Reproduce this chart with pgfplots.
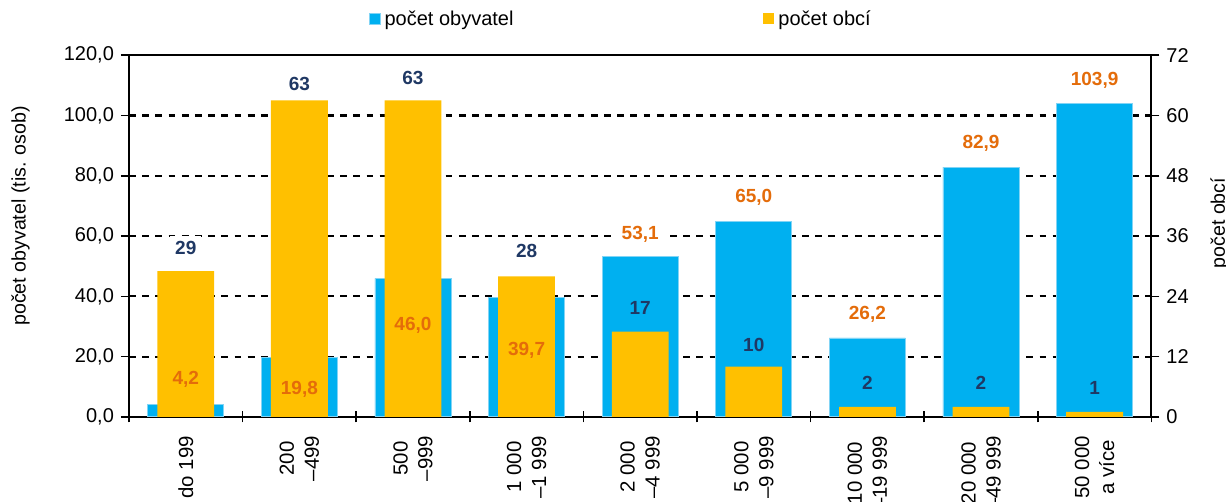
\documentclass[border=0pt]{standalone}
\usepackage{pgfplots}
\pgfplotsset{compat=1.18}
\usepackage{fontspec}
\setmainfont{Liberation Sans}
\definecolor{cblue}{RGB}{0,176,240}
\definecolor{cblueedge}{RGB}{130,212,245}
\definecolor{cyellow}{RGB}{255,192,0}
\definecolor{corange}{RGB}{228,108,10}
\definecolor{cnavy}{RGB}{31,56,100}
\begin{document}
\begin{tikzpicture}
\useasboundingbox (-64.5pt,-42.5pt) rectangle (548.65pt,208.5pt);
\pgfplotsset{
  common/.style={
    at={(0pt,0pt)}, anchor=south west,
    scale only axis, width=511.35pt, height=180.85pt,
    xmin=-0.5, xmax=8.5,
    ymin=0,
    major tick length=4pt,
    tick style={black, line width=0.8pt},
    tick label style={font=\fontsize{10}{12}\selectfont},
    /pgf/number format/assume math mode=true,
  }
}
% left axis: population
\begin{axis}[common,
  ymax=120, ytick={0,20,...,120},
  ytick pos=left, tick align=outside,
  axis line style={black, line width=1pt},
  yticklabel style={/pgf/number format/.cd, use comma, fixed, fixed zerofill, precision=1},
  ymajorgrids, grid style={black, line width=1.1pt, dash pattern=on 3.4pt off 3.2pt},
  xtick={0,...,8}, xtick pos=bottom,
  x tick style={draw=none},
  xticklabels={do 199, 200\\–499, 500\\–999, 1~000\\–1~999, 2~000\\–4~999, 5~000\\–9~999, 10~000\\–19~999, 20~000\\–49~999, 50~000\\a více},
  xticklabel style={rotate=90, anchor=east, align=center, font=\fontsize{10.2}{12.5}\selectfont, xshift=-2pt},
  extra x ticks={-0.5,0.5,...,8.5}, extra x tick labels={},
  extra x tick style={tick align=center, major tick length=5.5pt, x tick style={draw=black, line width=0.8pt}},
  ylabel={počet obyvatel (tis. osob)},
  ylabel style={at={(rel axis cs:-0.106,0.556)}, anchor=center, font=\fontsize{9.8}{11}\selectfont},
  legend style={at={(rel axis cs:0.482,1.098)}, anchor=center, draw=none, fill=none,
    font=\fontsize{10}{12}\selectfont, legend columns=2,
    /tikz/every even column/.append style={column sep=123pt}},
  legend image code/.code={\fill[#1] (1.5pt,-2.2pt) rectangle (7pt,3.3pt);},
]
\addplot[ybar, bar width=0.67, bar shift=0pt, fill=cblue, draw=cblueedge, line width=0.4pt] coordinates {
  (0,4.2) (1,19.8) (2,46.0) (3,39.7) (4,53.1) (5,65.0) (6,26.2) (7,82.9) (8,103.9)};
\addlegendentry{počet obyvatel}
\addlegendimage{fill=cyellow, draw=none}
\addlegendentry{počet obcí}
\end{axis}
% right axis: number of municipalities
\begin{axis}[common,
  ymax=72, ytick={0,12,...,72},
  axis y line*=right, tick align=outside,
  hide x axis,
  axis line style={black, line width=1pt},
  ylabel={počet obcí},
  ylabel style={at={(rel axis cs:1.0668,0.536)}, anchor=center, font=\fontsize{9.8}{11}\selectfont},
]
\addplot[ybar, bar width=0.5, bar shift=0pt, fill=cyellow, draw=none] coordinates {
  (0,29) (1,63) (2,63) (3,28) (4,17) (5,10) (6,2) (7,2) (8,1)};
\end{axis}
% labels (left-axis units)
\begin{axis}[common, ymax=120, hide axis]
\addplot[draw=none, mark=none, nodes near coords, point meta=explicit symbolic,
  nodes near coords align={center},
  every node near coord/.append style={font=\bfseries\fontsize{9.5}{11}\selectfont, text=corange, inner sep=2.5pt}]
  table[meta=lab] {
x y lab
0 12.3 4,2
1 9.3 19,8
2 30.5 46,0
3 22.2 39,7
};
\addplot[draw=none, mark=none, nodes near coords, point meta=explicit symbolic,
  nodes near coords align={center},
  every node near coord/.append style={font=\bfseries\fontsize{9.5}{11}\selectfont, text=corange, fill=white, inner sep=2.5pt}]
  table[meta=lab] {
x y lab
4 60.7 53,1
5 72.9 65,0
6 34.1 26,2
7 90.8 82,9
8 111.7 103,9
};
\addplot[draw=none, mark=none, nodes near coords, point meta=explicit symbolic,
  nodes near coords align={center},
  every node near coord/.append style={font=\bfseries\fontsize{9.5}{11}\selectfont, text=cnavy, fill=white, inner sep=2.5pt}]
  table[meta=lab] {
x y lab
0 56.0 29
1 110.5 63
2 112.4 63
3 55.0 28
};
\addplot[draw=none, mark=none, nodes near coords, point meta=explicit symbolic,
  nodes near coords align={center},
  every node near coord/.append style={font=\bfseries\fontsize{9.5}{11}\selectfont, text=cnavy, inner sep=2.5pt}]
  table[meta=lab] {
x y lab
4 36.1 17
5 23.9 10
6 11.3 2
7 11.3 2
8 9.6 1
};
\end{axis}
\end{tikzpicture}
\end{document}
